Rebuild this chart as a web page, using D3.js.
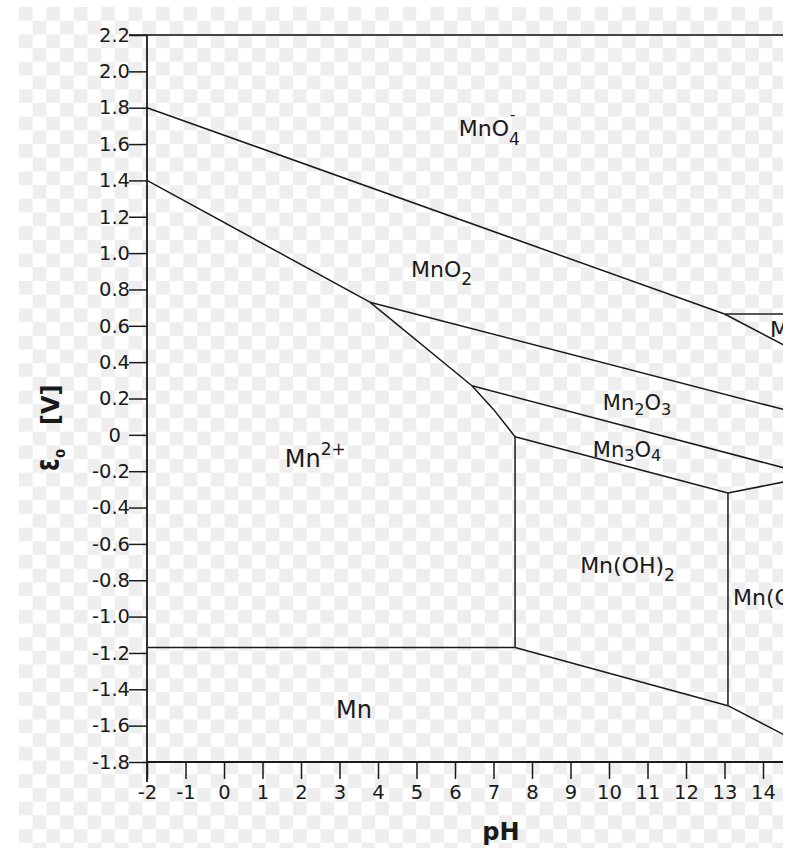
<!DOCTYPE html>
<html><head><meta charset="utf-8">
<script src="https://cdn.jsdelivr.net/npm/d3@7"></script>
<style>
html,body{margin:0;padding:0;background:#fff;}
svg{display:block;}
</style></head><body>
<script>
// ---------- DATA ----------
const phTicks = [-2,-1,0,1,2,3,4,5,6,7,8,9,10,11,12,13,14];
const phTickLabels = ["-2","-1","0","1","2","3","4","5","6","7","8","9","10","11","12","13","14"];
const eTicks = [2.2,2.0,1.8,1.6,1.4,1.2,1.0,0.8,0.6,0.4,0.2,0,-0.2,-0.4,-0.6,-0.8,-1.0,-1.2,-1.4,-1.6,-1.8];
const eTickLabels = ["2.2","2.0","1.8","1.6","1.4","1.2","1.0","0.8","0.6","0.4","0.2","0","-0.2","-0.4","-0.6","-0.8","-1.0","-1.2","-1.4","-1.6","-1.8"];

// boundary lines as [pH, E] points
const lineMnO4_MnO2   = [[-2,1.80],[13.0,0.665]];
const lineMnO42_MnO2  = [[13.0,0.665],[15.0,0.443]];
const lineMnO4_MnO42  = [[13.0,0.665],[15.0,0.665]];
const lineMnO2_Mn2    = [[-2,1.40],[3.79,0.73]];
const lineMn2O3_Mn2   = [[3.79,0.73],[6.44,0.27]];
const lineMn3O4_Mn2   = [[6.44,0.27],[7.0,0.14],[7.56,-0.01]];
const lineMnO2_Mn2O3  = [[3.79,0.73],[15.0,0.114]];
const lineMn2O3_Mn3O4 = [[6.44,0.27],[15.0,-0.207]];
const lineMn3O4_MnOH2 = [[7.56,-0.01],[13.09,-0.32]];
const lineMn3O4_MnOH3 = [[13.09,-0.32],[15.0,-0.24]];
const lineMn2_MnOH2   = [[7.56,-0.01],[7.56,-1.17]];
const lineMn_Mn2      = [[-2,-1.17],[7.56,-1.17]];
const lineMn_MnOH2    = [[7.56,-1.17],[13.09,-1.49]];
const lineMnOH2_MnOH3 = [[13.09,-0.32],[13.09,-1.49]];
const lineMn_MnOH3    = [[13.09,-1.49],[15.0,-1.70]];

const darkLines = [lineMnO4_MnO2, lineMnO42_MnO2, lineMnO2_Mn2, lineMn2O3_Mn2, lineMn3O4_Mn2,
  lineMnO2_Mn2O3, lineMn2O3_Mn3O4, lineMn3O4_MnOH2, lineMn3O4_MnOH3, lineMn2_MnOH2,
  lineMn_Mn2, lineMn_MnOH2, lineMnOH2_MnOH3, lineMn_MnOH3];
const grayLines = [lineMnO4_MnO42];

// region labels: text parts, anchored at [pH, E]
const labelParts = [
  [["MnO","b"],["4","sub"],["-","supOver"]],
  [["MnO","b"],["2","sub"]],
  [["Mn","b"],["2","sub"],["O","b"],["3","sub"]],
  [["Mn","b"],["3","sub"],["O","b"],["4","sub"]],
  [["Mn","b"],["2+","sup"]],
  [["Mn(OH)","b"],["2","sub"]],
  [["Mn(OH)","b"],["3","sub"],["-","supOver"]],
  [["MnO","b"],["4","sub"],["2-","supOver"]],
  [["Mn","b"]]
];
const labelAnchors = [[6.10,1.645],[4.86,0.869],[9.84,0.1375],[9.58,-0.121],[1.58,-0.176],
  [9.25,-0.759],[13.22,-0.935],[14.18,0.539],[2.91,-1.557]];

// ---------- STYLE ----------
const labelSizes = [22,22,21,21,24,22,22,22,24];
const subShift = [9,8,5,4,0,8,8,9,0];
const W = 792, H = 848;

const svg = d3.select("body").append("svg").attr("width",W).attr("height",H)
  .attr("xmlns","http://www.w3.org/2000/svg");

// checkerboard (transparency pattern)
const cell = 13.7;
const defs = svg.append("defs");
const pat = defs.append("pattern").attr("id","checker").attr("patternUnits","userSpaceOnUse")
  .attr("x",19).attr("y",7).attr("width",cell*2).attr("height",cell*2);
pat.append("rect").attr("x",0).attr("y",0).attr("width",cell*2).attr("height",cell*2).attr("fill","#ffffff");
pat.append("rect").attr("x",0).attr("y",0).attr("width",cell).attr("height",cell).attr("fill","#eeeeee");
pat.append("rect").attr("x",cell).attr("y",cell).attr("width",cell).attr("height",cell).attr("fill","#eeeeee");
svg.append("rect").attr("x",19).attr("y",7).attr("width",783-19).attr("height",H-7)
  .style("fill","url(#checker)");

const x = d3.scaleLinear().domain([-2,14]).range([147,763]);
const y = d3.scaleLinear().domain([-1.8,2.2]).range([762,35]);

defs.append("clipPath").attr("id","plotclip").append("rect")
  .attr("x", 0).attr("y", 0).attr("width", 783).attr("height", H);

const plot = svg.append("g").attr("clip-path","url(#plotclip)");

const line = d3.line().x(d => x(d[0])).y(d => y(d[1]));

// top frame line
plot.append("line").attr("x1", 129).attr("x2", 790).attr("y1", y(2.2)).attr("y2", y(2.2))
  .attr("stroke","#444").attr("stroke-width",2);

plot.selectAll("path.gray").data(grayLines).join("path").attr("class","gray")
  .attr("d", line).attr("fill","none").attr("stroke","#555").attr("stroke-width",2);
plot.selectAll("path.dark").data(darkLines).join("path").attr("class","dark")
  .attr("d", line).attr("fill","none").attr("stroke","#1a1a1a").attr("stroke-width",1.5)
  .attr("stroke-linejoin","round");

// axes
const tickFont = "'DejaVu Sans', sans-serif";
const yAxis = d3.axisLeft(y).tickValues(eTicks).tickFormat((d,i) => eTickLabels[i])
  .tickSize(18).tickPadding(-1).tickSizeOuter(0);
const gy = plot.append("g").attr("transform", `translate(${x(-2)},0)`).call(yAxis);
gy.select(".domain").remove();
gy.selectAll(".tick line").attr("stroke","#1a1a1a").attr("stroke-width",1.5);
gy.selectAll(".tick text").attr("font-family", tickFont).attr("font-size", 19.5).attr("fill","#1a1a1a")
  .filter(d => d === 0).attr("x", -26);

const xAxis = d3.axisBottom(x).tickValues(phTicks).tickFormat((d,i) => phTickLabels[i])
  .tickSize(17).tickPadding(6).tickSizeOuter(0);
const gx = plot.append("g").attr("transform", `translate(0,${y(-1.8)})`).call(xAxis);
gx.select(".domain").remove();
gx.selectAll(".tick line").attr("stroke","#1a1a1a").attr("stroke-width",1.5);
gx.selectAll(".tick text").attr("font-family", tickFont).attr("font-size", 19.5).attr("fill","#1a1a1a");

// axis lines
plot.append("line").attr("x1", x(-2)).attr("x2", 790).attr("y1", y(-1.8)).attr("y2", y(-1.8))
  .attr("stroke","#1a1a1a").attr("stroke-width",1.8);
plot.append("line").attr("x1", x(-2)).attr("x2", x(-2)).attr("y1", y(2.2)).attr("y2", 782)
  .attr("stroke","#1a1a1a").attr("stroke-width",1.8);

// region labels
labelParts.forEach((parts, i) => {
  const fs = labelSizes[i];
  const t = plot.append("text")
    .attr("x", x(labelAnchors[i][0])).attr("y", y(labelAnchors[i][1]))
    .attr("font-family", tickFont).attr("font-size", fs).attr("fill","#1a1a1a");
  let cur = 0;
  let lastSub = null;
  parts.forEach(([txt, kind]) => {
    const ts = t.append("tspan").text(txt);
    if (kind === "b") {
      ts.attr("dy", -cur); cur = 0;
    } else if (kind === "sub") {
      const s = subShift[i];
      ts.attr("font-size", Math.round(fs*0.76)).attr("dy", s - cur); cur = s;
      lastSub = ts;
    } else if (kind === "sup") {
      const s = -Math.round(fs*0.5);
      ts.attr("font-size", Math.round(fs*0.72)).attr("dy", s - cur); cur = s;
    } else if (kind === "supOver") {
      const w = lastSub ? lastSub.node().getComputedTextLength() : 0;
      const s = -Math.round(fs*0.72);
      ts.attr("font-size", Math.round(fs*0.68)).attr("dx", -w + 1).attr("dy", s - cur); cur = s;
    }
  });
});

// axis titles
svg.append("text").attr("x", 501).attr("y", 840).attr("text-anchor","middle")
  .attr("font-family", tickFont).attr("font-weight","bold").attr("font-size",24)
  .attr("fill","#1a1a1a").text("pH");

svg.append("text").attr("transform","translate(59,471) rotate(-90) scale(1,1.5)")
  .attr("font-family", tickFont).attr("font-weight","bold").attr("font-size",23)
  .attr("fill","#1a1a1a").text("ε");
svg.append("text").attr("transform","translate(65,458) rotate(-90)")
  .attr("font-family", tickFont).attr("font-weight","bold").attr("font-size",13)
  .attr("fill","#1a1a1a").text("0");
svg.append("text").attr("transform","translate(59,425) rotate(-90)")
  .attr("font-family", tickFont).attr("font-weight","bold").attr("font-size",24)
  .attr("fill","#1a1a1a").text("[V]");
</script>
</body></html>
